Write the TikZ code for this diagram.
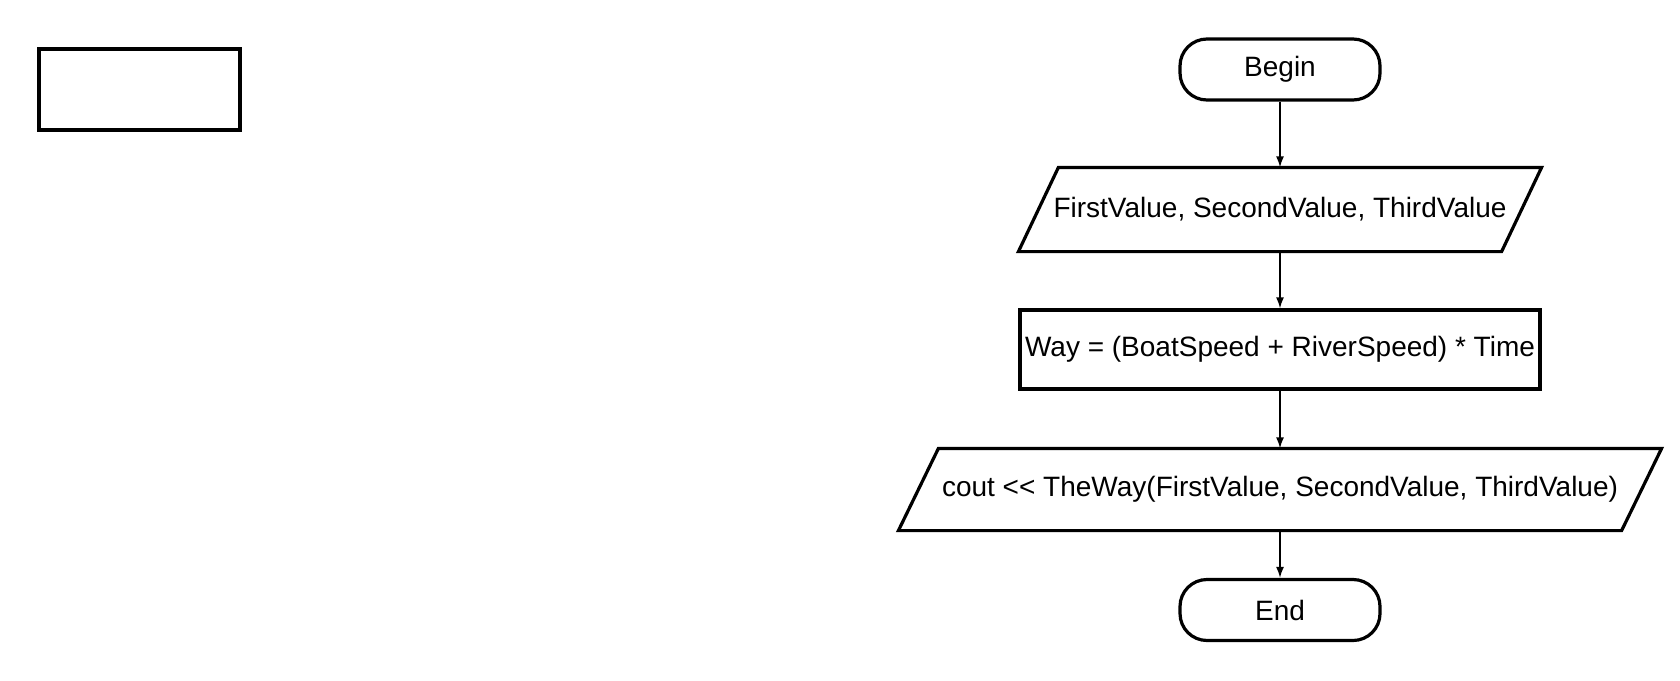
\documentclass[tikz,border=0pt]{standalone}
\usepackage{fontspec}
\setmainfont{Liberation Sans}
\usepackage{tikz}
\usetikzlibrary{arrows.meta}
\tikzset{
    terminal/.style={draw, line width=3.2pt, rectangle, rounded corners=27pt, minimum width=200pt, minimum height=61pt, inner sep=0pt},
    process/.style={draw, line width=3.2pt, rectangle, inner sep=0pt},
    iobox/.style={rectangle, inner sep=0pt, outer sep=1.6pt},
    ioline/.style={line width=3.2pt, line join=miter},
    flow/.style={line width=1.6pt, -{Latex[length=11pt,width=8pt]}}
}

\begin{document}
\begin{tikzpicture}[x=1pt, y=-1pt, node font=\fontsize{28}{33}\selectfont]
    %FRAME
    \useasboundingbox (0,0) rectangle (1680,680);
    %EMPTY BOX
    \node[process, minimum width=201pt, minimum height=81pt] (blank) at (139.5,89.5) {};
    %FLOW
    \node[terminal] (start) at (1280,69.5) {Begin};
    \node[iobox, minimum width=480pt, minimum height=81pt] (input) at (1280,209.5) {FirstValue, SecondValue, ThirdValue};
    \node[process, minimum width=520pt, minimum height=79pt] (way) at (1280,349.5) {Way = (BoatSpeed + RiverSpeed) * Time};
    \node[iobox, minimum width=720pt, minimum height=79pt] (output) at (1280,489.5) {cout {<}{<} TheWay(FirstValue, SecondValue, ThirdValue)};
    \node[terminal] (stop) at (1280,610) {End};
    %PARALLELOGRAMS
    \draw[ioline] ([xshift=-20pt]input.south west) -- ([xshift=-20pt]input.south east) -- ([xshift=20pt]input.north east) -- ([xshift=20pt]input.north west) -- cycle;
    \draw[ioline] ([xshift=-20pt]output.south west) -- ([xshift=-20pt]output.south east) -- ([xshift=20pt]output.north east) -- ([xshift=20pt]output.north west) -- cycle;
    %ARROWS
    \draw[flow] (start) -- (input);
    \draw[flow] (input) -- (way);
    \draw[flow] (way) -- (output);
    \draw[flow] (output) -- (stop);
\end{tikzpicture}
\end{document}
